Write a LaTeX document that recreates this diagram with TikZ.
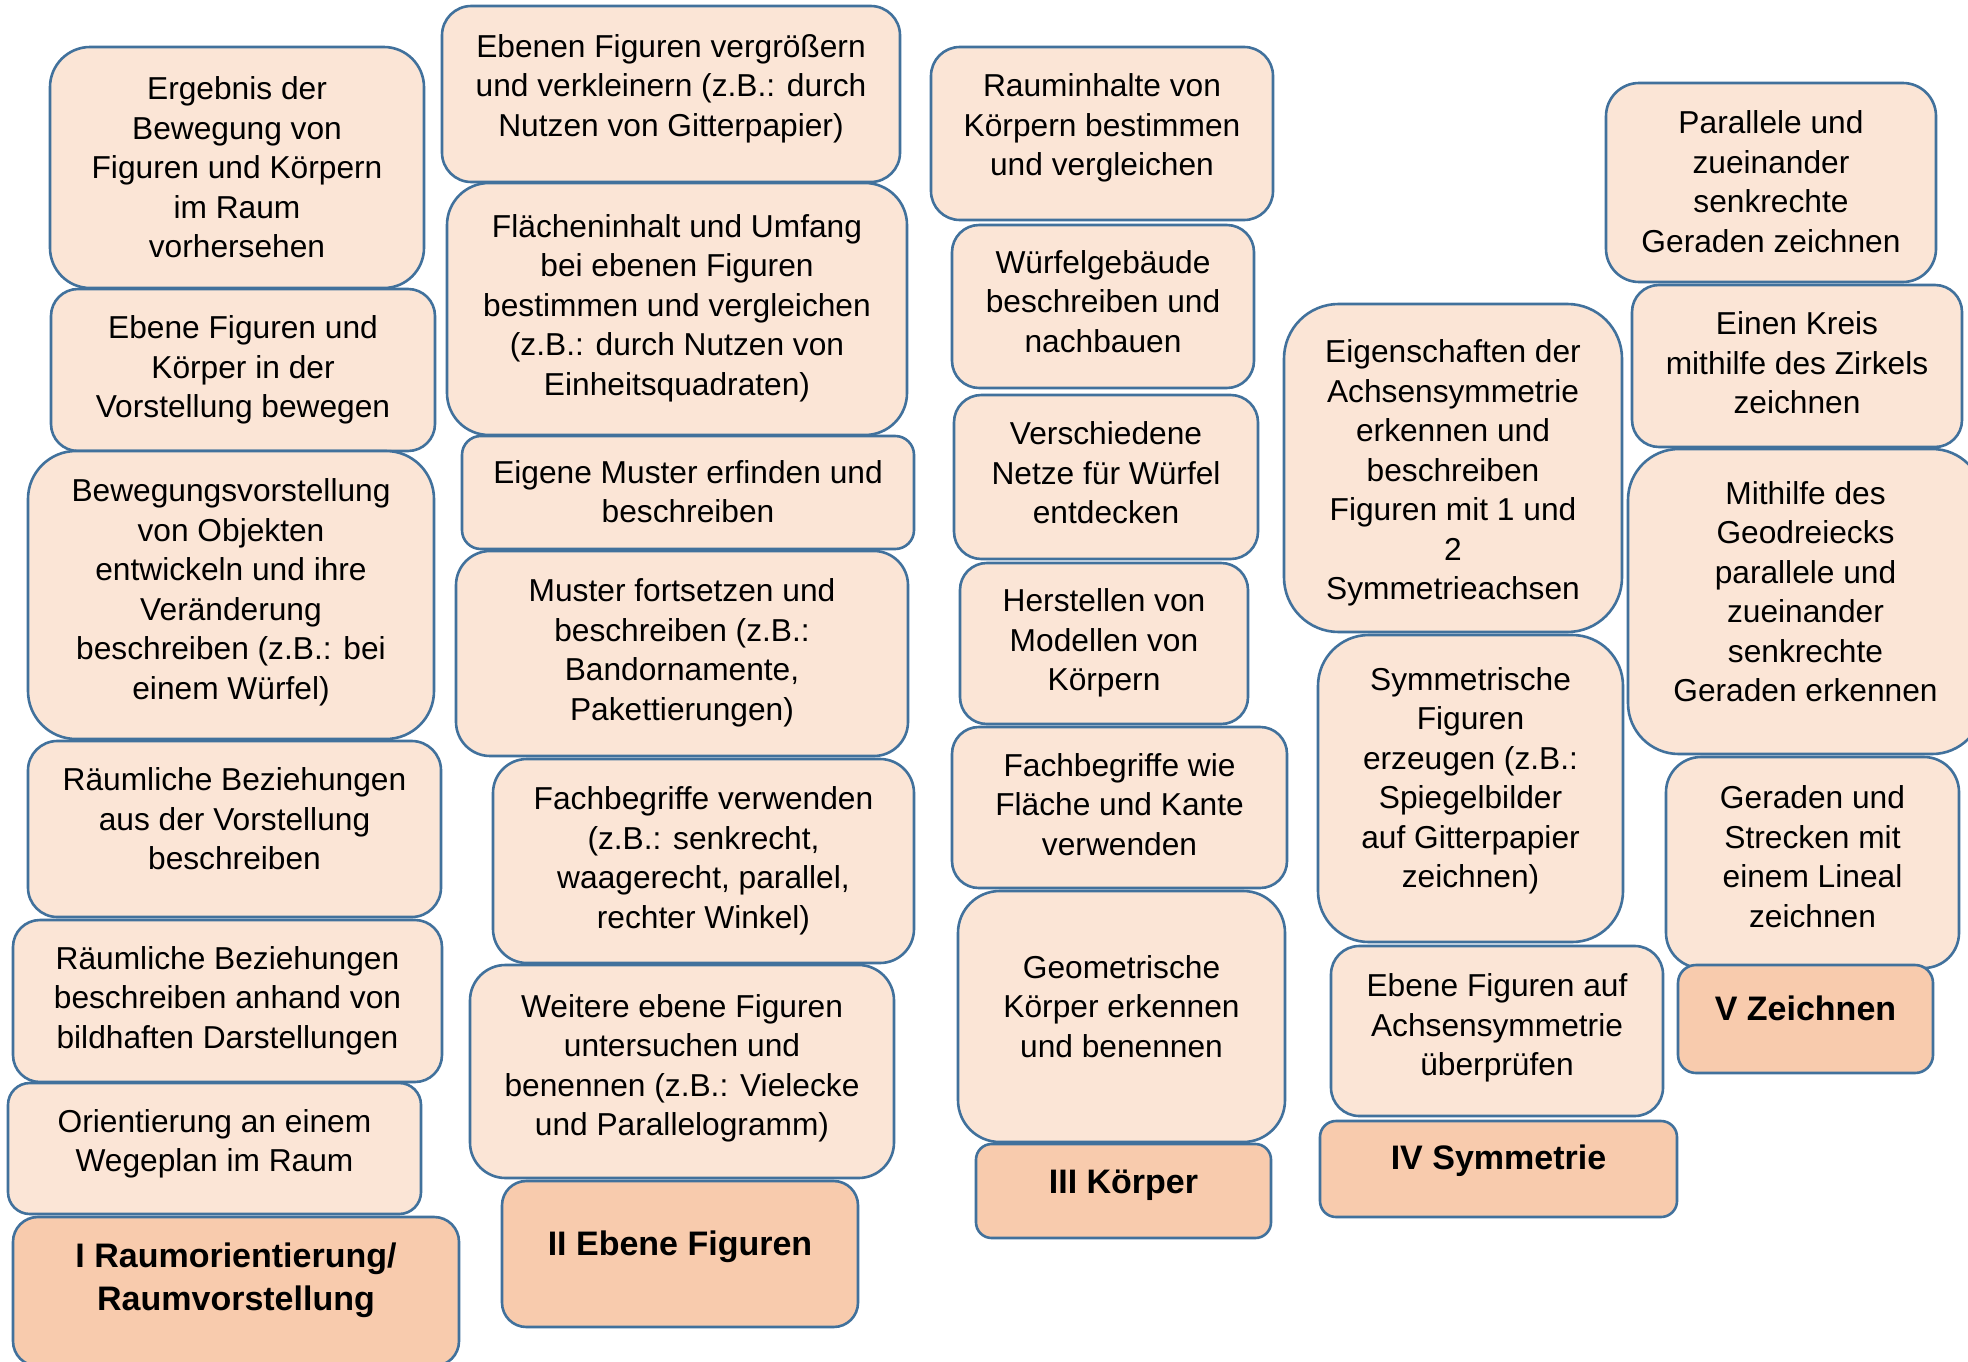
\documentclass[tikz,border=0pt]{standalone}
\usepackage{fontspec}
\setmainfont{Liberation Sans}
\definecolor{lightfill}{HTML}{FBE5D6}
\definecolor{headfill}{HTML}{F8CBAD}
\definecolor{edgeblue}{HTML}{41719C}
\tikzset{
  card/.style={draw=edgeblue, line width=2.6pt, fill=lightfill, inner sep=0pt},
  head/.style={draw=edgeblue, line width=2.6pt, fill=headfill, inner sep=0pt},
  cardtext/.style={align=center, inner sep=0pt, text=black, font=\fontsize{31.7}{39.5}\selectfont},
  headtext/.style={align=center, inner sep=0pt, text=black, font=\fontsize{34}{43}\bfseries\selectfont},
}
% #1 name, #2 box style, #3 text style, #4 x1, #5 y1, #6 x2, #7 y2, #8 text lift, #9 text
\newcommand{\mkbox}[9]{%
  \pgfmathsetmacro{\bxw}{#6-#4}%
  \pgfmathsetmacro{\bxh}{#7-#5}%
  \pgfmathsetmacro{\bxr}{min(\bxw,\bxh)/6}%
  \node[#2, minimum width=\bxw pt, minimum height=\bxh pt, rounded corners=\bxr pt] (#1) at ({(#4+#6)/2},{(#5+#7)/2}) {};
  \node[#3] (#1-t) at ([yshift=#8 pt]#1.center) {#9};
}
\begin{document}
\begin{tikzpicture}[x=1pt,y=-1pt]
\useasboundingbox[fill=white] (0,0) rectangle (1968,1362);
% Column I
\mkbox{a1}{card}{cardtext}{50}{47}{424}{288}{0}{Ergebnis der\\Bewegung von\\Figuren und Körpern\\im Raum\\vorhersehen}
\mkbox{a2}{card}{cardtext}{51}{289}{435}{451}{0}{Ebene Figuren und\\Körper in der\\Vorstellung bewegen}
\mkbox{a3}{card}{cardtext}{28}{451}{434}{739}{2.5}{Bewegungsvorstellung\\von Objekten\\entwickeln und ihre\\Veränderung\\beschreiben (z.B.: bei\\einem Würfel)}
\mkbox{a4}{card}{cardtext}{28}{741}{441}{917}{10}{Räumliche Beziehungen\\aus der Vorstellung\\beschreiben}
\mkbox{a5}{card}{cardtext}{13}{920}{442}{1082}{0.5}{Räumliche Beziehungen\\beschreiben anhand von\\bildhaften Darstellungen}
\mkbox{a6}{card}{cardtext}{8}{1083}{421}{1214}{4.5}{Orientierung an einem\\Wegeplan im Raum}
\mkbox{ah}{head}{headtext}{13}{1217}{459}{1366}{11}{I Raumorientierung/\\Raumvorstellung}
% Column II
\mkbox{b1}{card}{cardtext}{442}{6}{900}{182}{5.5}{Ebenen Figuren vergrößern\\und verkleinern (z.B.: durch\\Nutzen von Gitterpapier)}
\mkbox{b2}{card}{cardtext}{447}{183}{907}{435}{1}{Flächeninhalt und Umfang\\bei ebenen Figuren\\bestimmen und vergleichen\\(z.B.: durch Nutzen von\\Einheitsquadraten)}
\mkbox{b3}{card}{cardtext}{462}{436}{914}{549}{1}{Eigene Muster erfinden und\\beschreiben}
\mkbox{b4}{card}{cardtext}{456}{551}{908}{756}{0.5}{Muster fortsetzen und\\beschreiben (z.B.:\\Bandornamente,\\Pakettierungen)}
\mkbox{b5}{card}{cardtext}{493}{759}{914}{963}{0}{Fachbegriffe verwenden\\(z.B.: senkrecht,\\waagerecht, parallel,\\rechter Winkel)}
\mkbox{b6}{card}{cardtext}{470}{965}{894}{1178}{3}{Weitere ebene Figuren\\untersuchen und\\benennen (z.B.: Vielecke\\und Parallelogramm)}
\mkbox{bh}{head}{headtext}{502}{1181}{858}{1327}{7}{II Ebene Figuren}
% Column III
\mkbox{c1}{card}{cardtext}{931}{47}{1273}{220}{5.5}{Rauminhalte von\\Körpern bestimmen\\und vergleichen}
\mkbox{c2}{card}{cardtext}{952}{225}{1254}{388}{5}{Würfelgebäude\\beschreiben und\\nachbauen}
\mkbox{c3}{card}{cardtext}{954}{395}{1258}{559}{4}{Verschiedene\\Netze für Würfel\\entdecken}
\mkbox{c4}{card}{cardtext}{960}{563}{1248}{724}{0.5}{Herstellen von\\Modellen von\\Körpern}
\mkbox{c5}{card}{cardtext}{952}{727}{1287}{888}{3}{Fachbegriffe wie\\Fläche und Kante\\verwenden}
\mkbox{c6}{card}{cardtext}{958}{891}{1285}{1142}{10}{Geometrische\\Körper erkennen\\und benennen}
\mkbox{ch}{head}{headtext}{976}{1144}{1271}{1238}{6}{III Körper}
% Column IV
\mkbox{d1}{card}{cardtext}{1284}{304}{1622}{632}{-5}{Eigenschaften der\\Achsensymmetrie\\erkennen und\\beschreiben\\Figuren mit 1 und\\2\\Symmetrieachsen}
\mkbox{d2}{card}{cardtext}{1318}{635}{1623}{942}{7.5}{Symmetrische\\Figuren\\erzeugen (z.B.:\\Spiegelbilder\\auf Gitterpapier\\zeichnen)}
\mkbox{d3}{card}{cardtext}{1331}{946}{1663}{1116}{3}{Ebene Figuren auf\\Achsensymmetrie\\überprüfen}
\mkbox{dh}{head}{headtext}{1320}{1121}{1677}{1217}{8}{IV Symmetrie}
% Column V
\mkbox{e1}{card}{cardtext}{1606}{83}{1936}{282}{1}{Parallele und\\zueinander\\senkrechte\\Geraden zeichnen}
\mkbox{e2}{card}{cardtext}{1632}{285}{1962}{447}{3}{Einen Kreis\\mithilfe des Zirkels\\zeichnen}
\mkbox{e3}{card}{cardtext}{1628}{449}{1983}{754}{10}{Mithilfe des\\Geodreiecks\\parallele und\\zueinander\\senkrechte\\Geraden erkennen}
\mkbox{e4}{card}{cardtext}{1666}{757}{1959}{968}{6}{Geraden und\\Strecken mit\\einem Lineal\\zeichnen}
\mkbox{eh}{head}{headtext}{1678}{965}{1933}{1073}{11}{V Zeichnen}
\end{tikzpicture}
\end{document}
